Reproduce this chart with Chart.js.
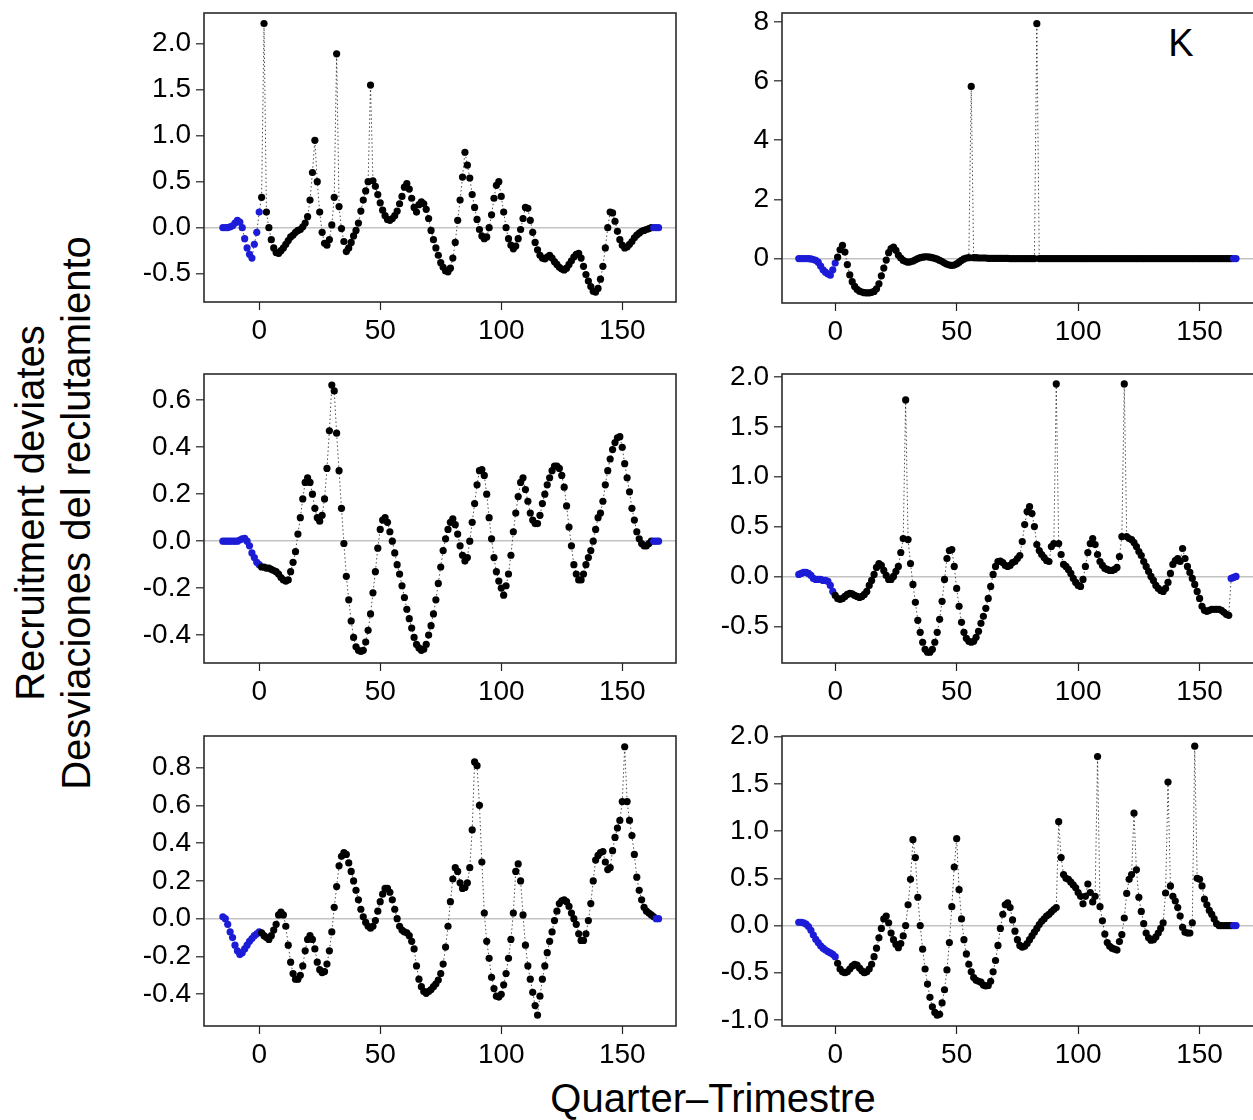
<!DOCTYPE html>
<html>
<head>
<meta charset="utf-8">
<script src="https://cdn.jsdelivr.net/npm/chart.js@4.4.0/dist/chart.umd.min.js"></script>
<style>
body { margin: 0; background: #fff; width: 1253px; height: 1120px; overflow: hidden; position: relative; font-family: "Liberation Sans", Arial, sans-serif; }
.panel { position: absolute; }
.label { position: absolute; color: #000; white-space: nowrap; transform: translate(-50%, -50%); }
.rot { transform: translate(-50%, -50%) rotate(-90deg); }
</style>
</head>
<body>
<div class="label rot" style="left:30px; top:513px; font-size:40px;">Recruitment deviates</div>
<div class="label rot" style="left:76px; top:513px; font-size:40px;">Desviaciones del reclutamiento</div>
<div class="label" style="left:713px; top:1098px; font-size:40px;">Quarter–Trimestre</div>
<div class="label" style="left:1181px; top:43px; font-size:38px;">K</div>

<script>
// quarters -15 .. 165
const quarters = Array.from({length: 181}, (_, i) => i - 15);
const xTicks = [0, 50, 100, 150];

// recruitment deviates, one value per quarter
const devTopLeft = [
    0.0, 0.0, 0.0, 0.01, 0.02, 0.05, 0.08, 0.06, 0.0, -0.12,
    -0.22, -0.29, -0.33, -0.18, -0.05, 0.17, 0.33, 2.22, 0.17, 0.0,
    -0.13, -0.22, -0.27, -0.28, -0.25, -0.22, -0.18, -0.14, -0.10, -0.08,
    -0.05, -0.03, -0.02, 0.01, 0.05, 0.12, 0.30, 0.60, 0.95, 0.50,
    0.17, -0.05, -0.17, -0.19, -0.13, 0.03, 0.33, 1.89, 0.23, -0.01,
    -0.15, -0.26, -0.22, -0.16, -0.09, -0.03, 0.05, 0.18, 0.30, 0.40,
    0.50, 1.55, 0.51, 0.45, 0.36, 0.27, 0.19, 0.13, 0.09, 0.08,
    0.10, 0.13, 0.18, 0.26, 0.34, 0.44, 0.48, 0.42, 0.32, 0.22,
    0.17, 0.25, 0.28, 0.26, 0.20, 0.10, -0.03, -0.13, -0.22, -0.30,
    -0.38, -0.43, -0.47, -0.48, -0.44, -0.33, -0.16, 0.08, 0.30, 0.55,
    0.82, 0.68, 0.54, 0.36, 0.22, 0.09, -0.02, -0.09, -0.12, -0.10,
    0.0, 0.14, 0.32, 0.46, 0.50, 0.34, 0.17, 0.0, -0.12, -0.19,
    -0.23, -0.20, -0.12, -0.02, 0.10, 0.22, 0.21, 0.08, -0.05, -0.16,
    -0.24, -0.30, -0.33, -0.34, -0.32, -0.30, -0.33, -0.37, -0.40, -0.43,
    -0.45, -0.46, -0.44, -0.40, -0.36, -0.32, -0.29, -0.28, -0.33, -0.42,
    -0.51, -0.58, -0.64, -0.69, -0.70, -0.66, -0.56, -0.42, -0.22, 0.0,
    0.17, 0.16, 0.07, -0.04, -0.13, -0.19, -0.22, -0.21, -0.18, -0.15,
    -0.11, -0.08, -0.06, -0.04, -0.03, -0.02, -0.01, 0.0, 0.0, 0.0,
    0.0
];
const devTopRight = [
    0.0, 0.0, 0.0, 0.0, 0.0, -0.01, -0.03, -0.06, -0.12, -0.25,
    -0.38, -0.46, -0.52, -0.56, -0.38, -0.15, 0.05, 0.30, 0.45, 0.22,
    -0.20, -0.55, -0.78, -0.94, -1.04, -1.10, -1.13, -1.15, -1.16, -1.16,
    -1.14, -1.11, -1.02, -0.85, -0.58, -0.32, -0.05, 0.20, 0.34, 0.39,
    0.28, 0.12, 0.02, -0.06, -0.10, -0.12, -0.11, -0.08, -0.04, 0.0,
    0.03, 0.05, 0.06, 0.06, 0.05, 0.03, 0.01, -0.02, -0.06, -0.10,
    -0.15, -0.19, -0.22, -0.23, -0.22, -0.18, -0.12, -0.06, -0.01, 0.02,
    0.03, 5.82, 0.03, 0.03, 0.02, 0.02, 0.02, 0.02, 0.01, 0.01,
    0.01, 0.01, 0.01, 0.01, 0.01, 0.01, 0.01, 0.0, 0.0, 0.0,
    0.0, 0.0, 0.0, 0.0, 0.0, 0.0, 0.0, 0.0, 7.94, 0.0,
    0.0, 0.0, 0.0, 0.0, 0.0, 0.0, 0.0, 0.0, 0.0, 0.0,
    0.0, 0.0, 0.0, 0.0, 0.0, 0.0, 0.0, 0.0, 0.0, 0.0,
    0.0, 0.0, 0.0, 0.0, 0.0, 0.0, 0.0, 0.0, 0.0, 0.0,
    0.0, 0.0, 0.0, 0.0, 0.0, 0.0, 0.0, 0.0, 0.0, 0.0,
    0.0, 0.0, 0.0, 0.0, 0.0, 0.0, 0.0, 0.0, 0.0, 0.0,
    0.0, 0.0, 0.0, 0.0, 0.0, 0.0, 0.0, 0.0, 0.0, 0.0,
    0.0, 0.0, 0.0, 0.0, 0.0, 0.0, 0.0, 0.0, 0.0, 0.0,
    0.0, 0.0, 0.0, 0.0, 0.0, 0.0, 0.0, 0.0, 0.0, 0.0,
    0.0
];
const devMidLeft = [
    0.0, 0.0, 0.0, 0.0, 0.0, 0.0, 0.0, 0.005, 0.01, 0.012,
    0.0, -0.02, -0.05, -0.07, -0.09, -0.10, -0.11, -0.11, -0.115, -0.115,
    -0.12, -0.125, -0.13, -0.14, -0.155, -0.165, -0.17, -0.165, -0.13, -0.09,
    -0.045, 0.03, 0.10, 0.18, 0.25, 0.27, 0.25, 0.20, 0.14, 0.10,
    0.085, 0.11, 0.18, 0.31, 0.47, 0.665, 0.64, 0.46, 0.30, 0.14,
    -0.01, -0.15, -0.25, -0.34, -0.41, -0.45, -0.465, -0.47, -0.465, -0.43,
    -0.38, -0.31, -0.22, -0.13, -0.03, 0.05, 0.09, 0.10, 0.08, 0.04,
    0.0, -0.05, -0.10, -0.14, -0.19, -0.24, -0.29, -0.33, -0.37, -0.41,
    -0.44, -0.455, -0.465, -0.46, -0.44, -0.40, -0.36, -0.31, -0.25, -0.18,
    -0.11, -0.04, 0.01, 0.05, 0.08, 0.095, 0.07, 0.03, -0.02, -0.06,
    -0.085, -0.07, 0.0, 0.08, 0.16, 0.24, 0.30, 0.305, 0.28, 0.20,
    0.10, 0.01, -0.07, -0.13, -0.17, -0.20, -0.23, -0.19, -0.14, -0.06,
    0.04, 0.12, 0.19, 0.25, 0.27, 0.22, 0.17, 0.12, 0.09, 0.075,
    0.075, 0.11, 0.16, 0.20, 0.24, 0.27, 0.30, 0.32, 0.32, 0.31,
    0.28, 0.23, 0.15, 0.06, -0.02, -0.10, -0.14, -0.165, -0.165, -0.14,
    -0.10, -0.07, -0.04, 0.0, 0.05, 0.10, 0.12, 0.17, 0.24, 0.30,
    0.35, 0.39, 0.42, 0.44, 0.445, 0.40, 0.33, 0.27, 0.21, 0.14,
    0.09, 0.04, 0.01, -0.01, -0.02, -0.02, -0.01, 0.0, 0.0, 0.0,
    0.0
];
const devMidRight = [
    0.02, 0.03, 0.04, 0.04, 0.03, 0.01, -0.02, -0.03, -0.03, -0.03,
    -0.04, -0.04, -0.05, -0.09, -0.15, -0.19, -0.22, -0.23, -0.22, -0.20,
    -0.18, -0.17, -0.175, -0.19, -0.20, -0.21, -0.20, -0.18, -0.15, -0.09,
    -0.04, 0.02, 0.09, 0.13, 0.11, 0.06, 0.01, -0.03, -0.03, 0.0,
    0.05, 0.10, 0.24, 0.38, 1.77, 0.37, 0.13, -0.08, -0.26, -0.44,
    -0.56, -0.66, -0.73, -0.76, -0.76, -0.73, -0.66, -0.56, -0.43, -0.25,
    -0.03, 0.18, 0.26, 0.27, 0.10, -0.12, -0.30, -0.46, -0.56, -0.62,
    -0.65, -0.66, -0.65, -0.61, -0.55, -0.47, -0.40, -0.32, -0.22, -0.10,
    0.02, 0.10, 0.15, 0.155, 0.14, 0.11, 0.10, 0.11, 0.14, 0.15,
    0.18, 0.21, 0.35, 0.52, 0.65, 0.70, 0.63, 0.50, 0.32, 0.26,
    0.22, 0.19, 0.16, 0.15, 0.30, 0.33, 1.93, 0.33, 0.22, 0.12,
    0.10, 0.07, 0.03, -0.02, -0.06, -0.09, -0.10, -0.03, 0.10, 0.24,
    0.33, 0.38, 0.32, 0.22, 0.15, 0.11, 0.08, 0.07, 0.06, 0.06,
    0.07, 0.09, 0.20, 0.40, 1.93, 0.40, 0.38, 0.37, 0.34, 0.30,
    0.25, 0.21, 0.15, 0.10, 0.05, 0.0, -0.04, -0.09, -0.12, -0.14,
    -0.15, -0.12, -0.06, 0.03, 0.12, 0.16, 0.18, 0.15, 0.28, 0.18,
    0.10, 0.04, -0.02, -0.08, -0.15, -0.22, -0.30, -0.34, -0.35, -0.34,
    -0.33, -0.33, -0.33, -0.33, -0.34, -0.36, -0.38, -0.39, -0.02, -0.01,
    0.0
];
const devBottomLeft = [
    0.01, 0.0, -0.03, -0.07, -0.10, -0.14, -0.17, -0.19, -0.18, -0.16,
    -0.14, -0.12, -0.105, -0.09, -0.08, -0.07, -0.075, -0.09, -0.10, -0.11,
    -0.09, -0.06, -0.03, 0.02, 0.035, 0.02, -0.04, -0.14, -0.23, -0.29,
    -0.32, -0.32, -0.30, -0.25, -0.17, -0.11, -0.09, -0.11, -0.16, -0.23,
    -0.27, -0.285, -0.28, -0.24, -0.17, -0.07, 0.06, 0.17, 0.28, 0.33,
    0.35, 0.34, 0.295, 0.25, 0.20, 0.15, 0.10, 0.05, 0.01, -0.02,
    -0.04, -0.05, -0.04, -0.01, 0.04, 0.09, 0.13, 0.16, 0.16, 0.14,
    0.10, 0.05, 0.0, -0.04, -0.06, -0.07, -0.075, -0.09, -0.12, -0.16,
    -0.25, -0.32, -0.36, -0.385, -0.395, -0.385, -0.375, -0.36, -0.345, -0.325,
    -0.29, -0.24, -0.15, -0.04, 0.09, 0.21, 0.27, 0.25, 0.19, 0.16,
    0.165, 0.19, 0.27, 0.47, 0.83, 0.81, 0.60, 0.30, 0.03, -0.12,
    -0.21, -0.31, -0.37, -0.41, -0.415, -0.40, -0.35, -0.29, -0.21, -0.11,
    0.03, 0.25, 0.29, 0.20, 0.02, -0.14, -0.25, -0.32, -0.39, -0.46,
    -0.51, -0.41, -0.32, -0.25, -0.18, -0.12, -0.07, -0.01, 0.04, 0.08,
    0.095, 0.10, 0.09, 0.065, 0.03, 0.0, -0.03, -0.08, -0.115, -0.115,
    -0.08, -0.01, 0.08, 0.20, 0.31, 0.335, 0.35, 0.355, 0.30, 0.26,
    0.27, 0.36, 0.43, 0.48, 0.52, 0.62, 0.91, 0.62, 0.52, 0.44,
    0.34, 0.22, 0.15, 0.10, 0.06, 0.04, 0.03, 0.02, 0.01, 0.0,
    0.0
];
const devBottomRight = [
    0.035, 0.035, 0.03, 0.015, -0.01, -0.05, -0.10, -0.145, -0.18, -0.215,
    -0.24, -0.26, -0.275, -0.29, -0.305, -0.33, -0.40, -0.46, -0.49, -0.50,
    -0.49, -0.46, -0.43, -0.41, -0.42, -0.45, -0.48, -0.50, -0.49, -0.46,
    -0.41, -0.33, -0.24, -0.13, -0.03, 0.07, 0.10, 0.03, -0.08, -0.15,
    -0.20, -0.235, -0.19, -0.11, 0.0, 0.22, 0.49, 0.91, 0.72, 0.30,
    0.0, -0.25, -0.46, -0.62, -0.76, -0.86, -0.92, -0.95, -0.94, -0.82,
    -0.68, -0.47, -0.18, 0.20, 0.62, 0.92, 0.38, 0.07, -0.15, -0.30,
    -0.41, -0.49, -0.55, -0.58, -0.59, -0.60, -0.63, -0.64, -0.635, -0.59,
    -0.49, -0.37, -0.21, -0.03, 0.12, 0.22, 0.24, 0.19, 0.06, -0.06,
    -0.15, -0.21, -0.23, -0.22, -0.19, -0.15, -0.11, -0.07, -0.03, 0.01,
    0.045, 0.07, 0.10, 0.12, 0.145, 0.17, 0.19, 1.10, 0.72, 0.54,
    0.50, 0.49, 0.46, 0.43, 0.40, 0.35, 0.31, 0.23, 0.31, 0.44,
    0.35, 0.25, 0.31, 1.79, 0.20, 0.05, -0.09, -0.18, -0.22, -0.24,
    -0.25, -0.26, -0.17, -0.095, 0.08, 0.34, 0.49, 0.54, 1.19, 0.59,
    0.30, 0.15, 0.02, -0.08, -0.13, -0.155, -0.15, -0.12, -0.08, -0.03,
    0.03, 0.345, 1.52, 0.42, 0.31, 0.26, 0.19, 0.10, -0.02, -0.07,
    -0.08, -0.08, 0.03, 1.90, 0.50, 0.49, 0.42, 0.28, 0.22, 0.16,
    0.12, 0.07, 0.02, 0.0, 0.0, 0.0, 0.0, 0.0, 0.0, 0.0,
    0.0
];

// y tick labels per panel
const yTicksTopLeft = [-0.5, 0.0, 0.5, 1.0, 1.5, 2.0];
const yTicksTopRight = [0, 2, 4, 6, 8];
const yTicksMidLeft = [-0.4, -0.2, 0.0, 0.2, 0.4, 0.6];
const yTicksMidRight = [-0.5, 0.0, 0.5, 1.0, 1.5, 2.0];
const yTicksBottomLeft = [-0.4, -0.2, 0.0, 0.2, 0.4, 0.6, 0.8];
const yTicksBottomRight = [-1.0, -0.5, 0.0, 0.5, 1.0, 1.5, 2.0];

// quarters drawn in blue (before the model period, and the last ones)
const blueUntil = [0, 0, 0, -1, 0, 0];
const blueFrom = [163, 164, 163, 163, 164, 164];

const FONT = '"Liberation Sans", Arial, sans-serif';
const AXIS_W = 80;
const AXIS_H = 52;
const PAD_TOP = 24;
const PAD_RIGHT = 32;

const panels = [
    {values: devTopLeft, yTicks: yTicksTopLeft, digits: 1, box: [204, 13, 472, 289], x: [-22.8, 172.2], y: [-0.808, 2.334]},
    {values: devTopRight, yTicks: yTicksTopRight, digits: 0, box: [782, 13, 472, 290], x: [-21.9, 172.4], y: [-1.50, 8.30]},
    {values: devMidLeft, yTicks: yTicksMidLeft, digits: 1, box: [204, 374, 472, 289], x: [-22.8, 172.2], y: [-0.519, 0.712]},
    {values: devMidRight, yTicks: yTicksMidRight, digits: 1, box: [782, 374, 472, 289], x: [-21.9, 172.4], y: [-0.868, 2.030]},
    {values: devBottomLeft, yTicks: yTicksBottomLeft, digits: 1, box: [204, 736, 472, 290], x: [-22.8, 172.2], y: [-0.568, 0.967]},
    {values: devBottomRight, yTicks: yTicksBottomRight, digits: 1, box: [782, 736, 472, 290], x: [-21.9, 172.4], y: [-1.064, 2.008]}
];

const boxPlugin = {
    id: 'box',
    afterDraw(chart) {
        const a = chart.chartArea;
        const ctx = chart.ctx;
        ctx.save();
        ctx.strokeStyle = '#2b2b2b';
        ctx.lineWidth = 1.6;
        ctx.strokeRect(a.left, a.top, a.right - a.left, a.bottom - a.top);
        ctx.restore();
    }
};

function makePanel(p, i) {
    const [left, top, width, height] = p.box;
    const div = document.createElement('div');
    div.className = 'panel';
    div.style.left = (left - AXIS_W) + 'px';
    div.style.top = (top - PAD_TOP) + 'px';
    const canvas = document.createElement('canvas');
    canvas.width = width + AXIS_W + PAD_RIGHT;
    canvas.height = height + PAD_TOP + AXIS_H;
    canvas.style.width = canvas.width + 'px';
    canvas.style.height = canvas.height + 'px';
    div.appendChild(canvas);
    document.body.appendChild(div);

    const colors = quarters.map(q => (q <= blueUntil[i] || q >= blueFrom[i]) ? '#1c1cd8' : '#000');
    return new Chart(canvas, {
        type: 'scatter',
        data: {
            datasets: [{
                data: quarters.map((q, k) => ({x: q, y: p.values[k]})),
                showLine: true,
                borderColor: 'rgba(0,0,0,0.7)',
                borderWidth: 1,
                borderDash: [1.5, 2.5],
                pointRadius: 3.6,
                pointBorderWidth: 0,
                pointBackgroundColor: colors,
                clip: 4
            }]
        },
        options: {
            responsive: false,
            animation: false,
            devicePixelRatio: 1,
            events: [],
            layout: {padding: {top: PAD_TOP, right: PAD_RIGHT, left: 0, bottom: 0}},
            plugins: {legend: {display: false}, tooltip: {enabled: false}},
            scales: {
                x: {
                    type: 'linear', min: p.x[0], max: p.x[1],
                    afterFit: s => { s.height = AXIS_H; },
                    afterBuildTicks: s => { s.ticks = xTicks.map(v => ({value: v})); },
                    border: {display: false},
                    grid: {drawOnChartArea: false, drawTicks: true, tickLength: 8, tickColor: '#222', tickWidth: 1.2},
                    ticks: {color: '#000', font: {size: 28, family: FONT}, padding: 4, maxRotation: 0, autoSkip: false}
                },
                y: {
                    type: 'linear', min: p.y[0], max: p.y[1],
                    afterFit: s => { s.width = AXIS_W; },
                    afterBuildTicks: s => { s.ticks = p.yTicks.map(v => ({value: v})); },
                    border: {display: false},
                    grid: {
                        drawOnChartArea: true, drawTicks: true, tickLength: 8, tickColor: '#222', tickWidth: 1.2,
                        lineWidth: 1.6,
                        color: ctx => (ctx.tick && ctx.tick.value === 0) ? '#c4c4c4' : 'rgba(0,0,0,0)'
                    },
                    ticks: {
                        color: '#000', font: {size: 28, family: FONT}, padding: 5, autoSkip: false,
                        callback: v => v.toFixed(p.digits)
                    }
                }
            }
        },
        plugins: [boxPlugin]
    });
}

panels.forEach(makePanel);
</script>
</body>
</html>
